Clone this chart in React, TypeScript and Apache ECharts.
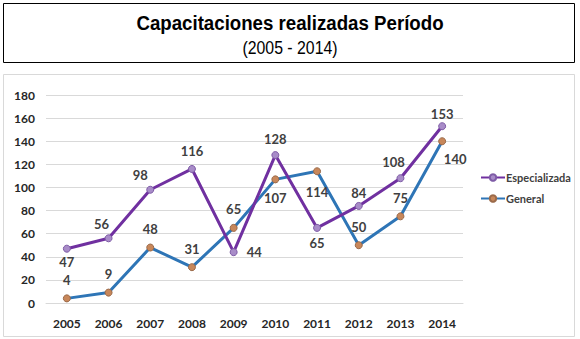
import React, { useEffect, useRef } from "react";
import * as echarts from "echarts";

const years = ["2005", "2006", "2007", "2008", "2009", "2010", "2011", "2012", "2013", "2014"];
const especializada = [47, 56, 98, 116, 44, 128, 65, 84, 108, 153];
const general = [4, 9, 48, 31, 65, 107, 114, 50, 75, 140];
const titleText = "Capacitaciones realizadas Período";
const subtitleText = "(2005 - 2014)";

export default function App() {
  const ref = useRef<HTMLDivElement>(null);
  useEffect(() => {
    if (!ref.current) return;
    const chart = echarts.init(ref.current, null, { renderer: "svg" });
    const font = "Lato, 'Open Sans', sans-serif";
    const titleFont = "'Liberation Sans', Arial, sans-serif";
    const labelBase = {
      show: true,
      fontFamily: font,
      fontWeight: "bold" as const,
      fontSize: 13,
      color: "#404040",
    };
    const espLabel: any[] = [
      { position: "bottom", distance: 3 },
      { position: "top", distance: 4, offset: [-7, 0] },
      { position: "top", distance: 4, offset: [-10, 0] },
      { position: "top", distance: 7 },
      { position: "right", distance: 9 },
      { position: "top", distance: 6 },
      { position: "bottom", distance: 5 },
      { position: "top", distance: 2 },
      { position: "top", distance: 6, offset: [-7, 0] },
      { position: "top", distance: 2 },
    ];
    const genLabel: any[] = [
      { position: "top", distance: 8 },
      { position: "top", distance: 8 },
      { position: "top", distance: 8 },
      { position: "top", distance: 8 },
      { position: "top", distance: 8 },
      { position: "bottom", distance: 8 },
      { position: "bottom", distance: 10 },
      { position: "top", distance: 8 },
      { position: "top", distance: 8 },
      { position: "bottom", distance: 3, offset: [13, 4] },
    ];
    chart.setOption({
      animation: false,
      backgroundColor: "#ffffff",
      graphic: [
        {
          type: "rect",
          shape: { x: 3.5, y: 3.5, width: 571, height: 59 },
          style: { fill: "none", stroke: "#000", lineWidth: 1 },
          z: -1,
        },
        {
          type: "rect",
          shape: { x: 3.5, y: 74.5, width: 571, height: 262 },
          style: { fill: "none", stroke: "#D9D9D9", lineWidth: 1 },
          z: -1,
        },
        {
          type: "text",
          x: 290,
          y: 23,
          scaleX: 0.89,
          style: {
            text: titleText,
            align: "center",
            verticalAlign: "middle",
            fontFamily: titleFont,
            fontWeight: "bold",
            fontSize: 21,
            fill: "#000",
          },
        },
        {
          type: "text",
          x: 290,
          y: 48,
          scaleX: 0.88,
          style: {
            text: subtitleText,
            align: "center",
            verticalAlign: "middle",
            fontFamily: titleFont,
            fontSize: 18,
            fill: "#000",
          },
        },
      ],
      legend: {
        orient: "vertical",
        left: 475,
        top: 167,
        itemWidth: 24,
        itemHeight: 8,
        itemGap: 10,
        textStyle: {
          fontFamily: font,
          fontWeight: "bold",
          fontSize: 11,
          color: "#404040",
          padding: [0, 0, 0, -4],
        },
        data: ["Especializada", "General"],
      },
      grid: { left: 46, right: 117, top: 95, bottom: 36 },
      xAxis: {
        type: "category",
        data: years,
        boundaryGap: true,
        axisLine: { show: true, lineStyle: { color: "#D9D9D9" } },
        axisTick: { show: false },
        axisLabel: {
          fontFamily: font,
          fontWeight: "bold",
          fontSize: 12,
          color: "#262626",
          margin: 14,
        },
      },
      yAxis: {
        type: "value",
        min: 0,
        max: 180,
        interval: 20,
        axisLine: { show: false },
        axisTick: { show: false },
        splitLine: { lineStyle: { color: "#D9D9D9" } },
        axisLabel: {
          fontFamily: font,
          fontWeight: "bold",
          fontSize: 12,
          color: "#262626",
          margin: 11,
        },
      },
      series: [
        {
          name: "Especializada",
          type: "line",
          data: especializada.map((v, i) => ({ value: v, label: espLabel[i] })),
          symbol: "circle",
          symbolSize: 7,
          lineStyle: { color: "#7030A0", width: 3 },
          itemStyle: { color: "#A88CC8", borderColor: "#7E5BA6", borderWidth: 1 },
          label: labelBase,
          z: 3,
        },
        {
          name: "General",
          type: "line",
          data: general.map((v, i) => ({ value: v, label: genLabel[i] })),
          symbol: "circle",
          symbolSize: 7,
          lineStyle: { color: "#2E75B6", width: 3 },
          itemStyle: { color: "#C8875A", borderColor: "#9A6A4A", borderWidth: 1 },
          label: labelBase,
          z: 2,
        },
      ],
    });
    return () => chart.dispose();
  }, []);
  return (
    <div
      ref={ref}
      style={{ position: "fixed", left: 0, top: 0, width: 580, height: 339 }}
    />
  );
}
